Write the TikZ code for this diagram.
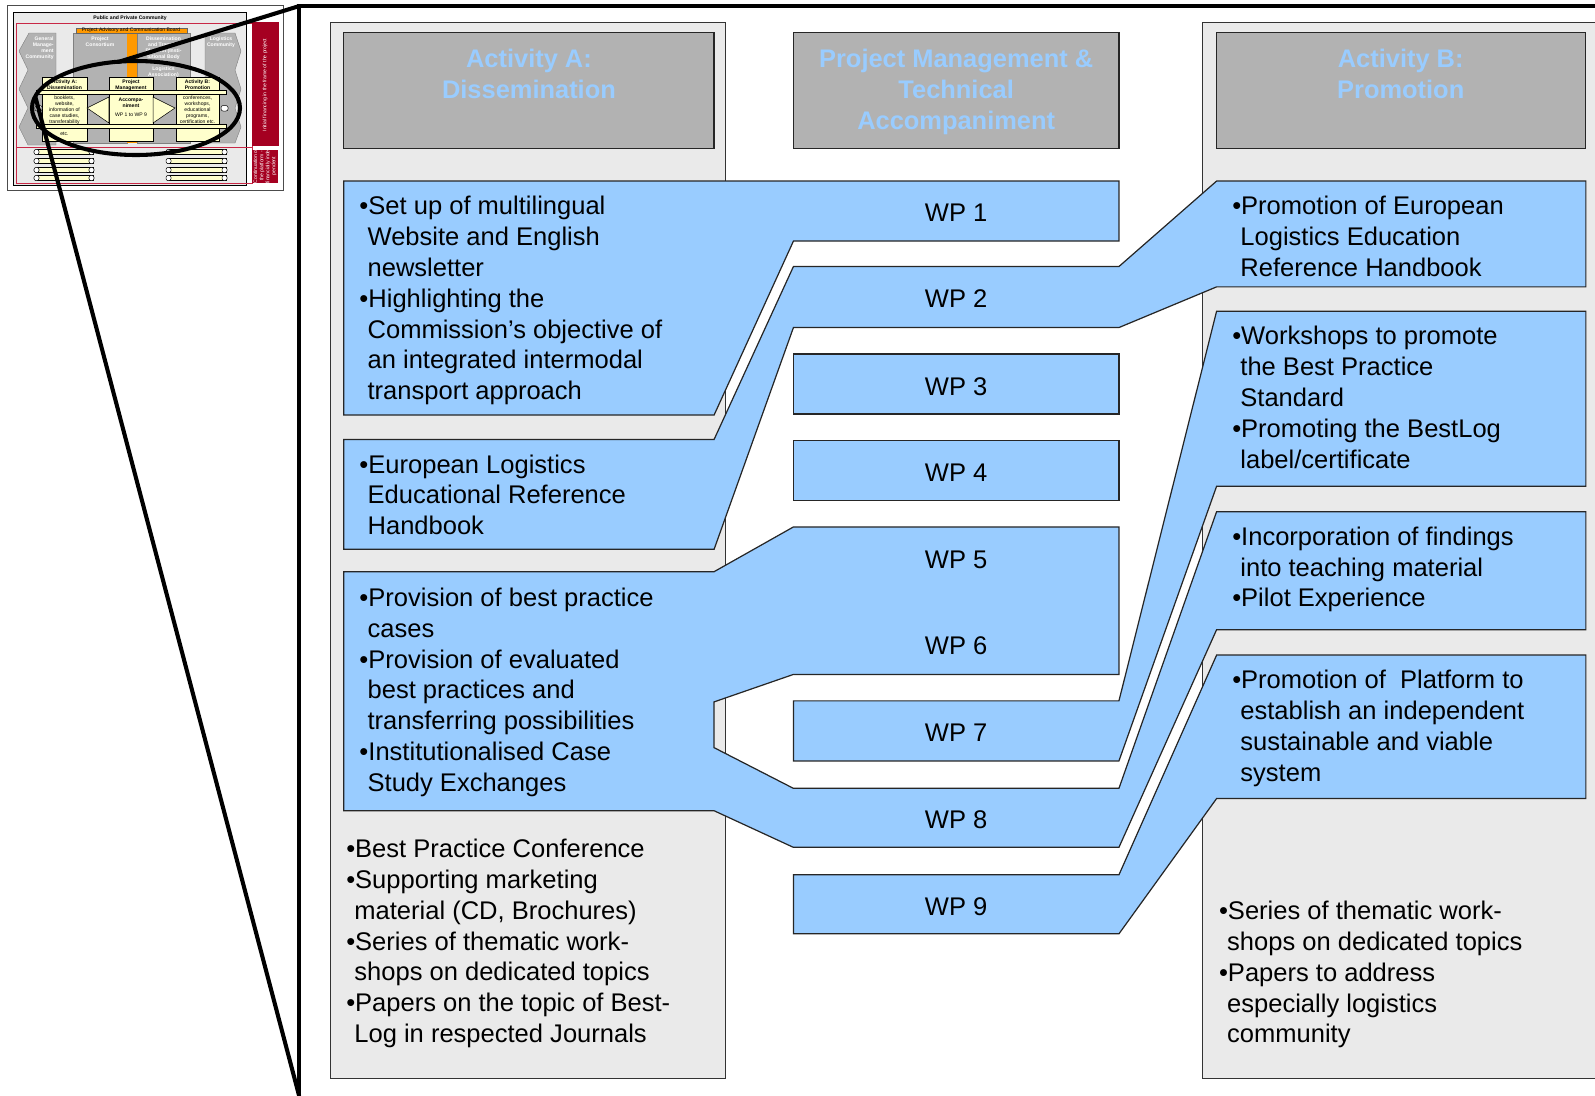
\documentclass[tikz,border=0pt]{standalone}
\usepackage{fontspec}
\setmainfont{Liberation Sans}
\usepackage{xcolor}
\definecolor{cBlue}{RGB}{153,204,255}
\definecolor{cColumn}{RGB}{234,234,234}
\definecolor{cHead}{RGB}{178,178,178}
\definecolor{cYellow}{RGB}{255,255,204}
\definecolor{cOrange}{RGB}{255,153,0}
\definecolor{cCrimson}{RGB}{165,0,33}
\definecolor{cRedLine}{RGB}{200,40,70}
\newcommand{\bodyfont}{\fontsize{12.55}{15.15}\selectfont}
\newcommand{\headfont}{\fontsize{12.5}{15.25}\selectfont\bfseries}
\newcommand{\minifont}{\fontsize{2.5}{3}\selectfont}
\newcommand{\contline}{\hspace*{4pt}}
\tikzset{
  column/.style={draw=black!80,fill=cColumn,line width=0.6pt},
  headbox/.style={draw=black!85,fill=cHead,line width=0.6pt},
  headtext/.style={anchor=north,align=center,inner sep=0pt,text=cBlue,
                   font=\headfont,execute at begin node=\strut},
  wpshape/.style={draw=black!85,fill=cBlue,line width=0.6pt},
  bodytext/.style={anchor=north west,align=left,inner sep=0pt,
                   font=\bodyfont,execute at begin node=\strut},
  wplabel/.style={inner sep=0pt,font=\bodyfont},
  frameline/.style={line width=2pt,line cap=round},
  minigray/.style={fill=cHead,draw=black!50,line width=0.2pt},
  miniyellow/.style={fill=cYellow,draw=black,line width=0.25pt},
  minitext/.style={inner sep=0pt,align=center,font=\minifont},
  minibold/.style={minitext,font=\minifont\bfseries}
}
\begin{document}
\begin{tikzpicture}[x=0.5pt,y=-0.5pt]
  \useasboundingbox (0,0) rectangle (1568,1077);

  % small overview picture
  \begin{scope}[scale=0.9831]
    \draw[fill=white,draw=black!70,line width=0.4pt] (7,5) rectangle (283,190);
    \draw[fill=cColumn,draw=black,line width=0.35pt] (13,12) rectangle (246,185);
    \node[minibold] (mTitle) at (130,18) {Public and Private Community};
    \draw[cRedLine,line width=0.35pt] (16,23) rectangle (252,183);
    \draw[cRedLine,line width=0.35pt] (16,147) -- (252,147);
    \fill[cCrimson] (252,22) rectangle (279,146);
    \fill[cCrimson] (252,150) rectangle (278,183);
    \node[minitext,text=white,rotate=90] (mInit) at (265,85)
        {Initial financing in the frame of the project};
    \node[minitext,text=white,rotate=90] (mCont) at (265,166)
        {Continuation of\\the platform -\\financially inde-\\pendent};

    \draw[minigray] (56,33) -- (29,33) -- (19,51) -- (28,70) -- (19,89)
        -- (28,108) -- (19,127) -- (28,145) -- (56,145) -- cycle;
    \node[minibold,text=white,align=right,anchor=north east] (mGen) at (54,36)
        {General\\Manage-\\ment\\Community};
    \draw[minigray] (73,33) rectangle (127,143);
    \node[minibold,text=white,anchor=north] (mCons) at (100,36) {Project\\Consortium};
    \draw[minigray] (137,33) rectangle (190,143);
    \node[minibold,text=white,anchor=north] (mDiss) at (163.5,36)
        {Dissemination\\and Transfer\\Platform (Insti-\\tutional Body\\of the\\Logistics\\Association)};
    \draw[minigray] (205,33) -- (235,33) -- (241,51) -- (235,70) -- (241,89)
        -- (235,108) -- (241,127) -- (235,143) -- (205,143) -- cycle;
    \node[minibold,text=white,anchor=north] (mLog) at (221,36) {Logistics\\Community};

    \fill[cOrange] (127,28) rectangle (137,143);
    \draw[fill=cOrange,draw=black!60,line width=0.2pt] (76,28) rectangle (187,33);
    \node[minitext] (mBoard) at (131,30.5) {Project Advisory and Communication Board};

    \draw[miniyellow] (42,77) rectangle (87,141);
    \draw[miniyellow] (109,77) rectangle (153,141);
    \draw[miniyellow] (176,77) rectangle (219,141);
    \draw[miniyellow] (87,108) -- (109,97) -- (109,123) -- cycle;
    \draw[miniyellow] (153,97) -- (175,108) -- (153,123) -- cycle;
    \node[minibold,anchor=north] (mActA) at (64.5,79) {Activity A:\\Dissemination};
    \node[minitext,anchor=north] (mActAtxt) at (64.5,95)
        {booklets,\\website,\\information of\\case studies,\\transferability\\assessment\\etc.};
    \node[minibold,anchor=north] (mPM) at (131,79)
        {Project\\Management\\\& Technical\\Accompa-\\niment};
    \node[minitext] (mWP) at (131,115) {WP 1 to WP 9};
    \node[minibold,anchor=north] (mActB) at (197.5,79) {Activity B:\\Promotion};
    \node[minitext,anchor=north] (mActBtxt) at (197.5,95)
        {conferences,\\workshops,\\educational\\programs,\\certification etc.};

    \draw[miniyellow] (36,90) rectangle (226,94);
    \draw[miniyellow] (36,124) rectangle (226,128);
    \draw[fill=white,line width=0.25pt,rounded corners=1pt] (35,105.5) rectangle (42,111);
    \draw[fill=white,line width=0.25pt,rounded corners=1pt] (221,105.5) rectangle (228,111);
    \foreach \y in {152,161,170,178} {
      \draw[miniyellow] (36,\y-2.3) rectangle (93,\y+2.3);
      \draw[miniyellow] (168,\y-2.3) rectangle (226,\y+2.3);
      \draw[fill=white,line width=0.25pt,rounded corners=1pt] (34,\y-2.6) rectangle (39,\y+2.6);
      \draw[fill=white,line width=0.25pt,rounded corners=1pt] (89,\y-2.6) rectangle (94,\y+2.6);
      \draw[fill=white,line width=0.25pt,rounded corners=1pt] (166,\y-2.6) rectangle (171,\y+2.6);
      \draw[fill=white,line width=0.25pt,rounded corners=1pt] (222,\y-2.6) rectangle (227,\y+2.6);
    }
    \draw[frameline] (136,108) ellipse [x radius=104,y radius=47];
  \end{scope}

  % zoom frame
  \coordinate (fTop) at (294,6);
  \coordinate (fBot) at (294,1077);
  \coordinate (fRight) at (1570,6);
  \coordinate (eTop) at (116,61);
  \coordinate (eLeft) at (35,96);
  \draw[frameline] (fRight) -- (fTop) -- (fBot);
  \draw[frameline] (eTop) -- (fTop);
  \draw[frameline] (eLeft) -- (fBot);

  % columns and headers
  \draw[column] (325,22) rectangle (713,1060);
  \draw[column] (1182,22) rectangle (1590,1060);
  \draw[headbox] (338,32) rectangle (702,146);
  \draw[headbox] (780,32) rectangle (1100,146);
  \draw[headbox] (1196,32) rectangle (1559,146);
  \node[headtext] (headA) at (520,48) {Activity A:\\Dissemination};
  \node[headtext] (headM) at (940,48) {Project Management \&\\Technical\\Accompaniment};
  \node[headtext] (headB) at (1377,48) {Activity B:\\Promotion};

  % work packages
  \draw[wpshape] (338,178) -- (1100,178) -- (1100,237) -- (780,237) -- (702,408)
      -- (338,408) -- cycle;
  \draw[wpshape] (338,432) -- (702,432) -- (780,262) -- (1100,262) -- (1196,178)
      -- (1559,178) -- (1559,282) -- (1196,282) -- (1100,322) -- (780,322)
      -- (702,540) -- (338,540) -- cycle;
  \draw[wpshape] (780,348) rectangle (1100,407);
  \draw[wpshape] (780,433) rectangle (1100,492);
  \draw[wpshape] (338,562) -- (702,562) -- (780,518) -- (1100,518) -- (1100,663)
      -- (780,663) -- (702,690) -- (702,735) -- (780,775) -- (1100,775)
      -- (1196,503) -- (1559,503) -- (1559,619) -- (1196,619) -- (1100,833)
      -- (780,833) -- (702,797) -- (338,797) -- cycle;
  \draw[wpshape] (780,689) -- (1100,689) -- (1196,306) -- (1559,306) -- (1559,478)
      -- (1196,478) -- (1100,748) -- (780,748) -- cycle;
  \draw[wpshape] (780,860) -- (1100,860) -- (1196,644) -- (1559,644) -- (1559,785)
      -- (1196,785) -- (1100,918) -- (780,918) -- cycle;
  \foreach \n/\y in {1/209,2/294,3/380,4/465,5/550,6/635,7/720,8/806,9/891}
    \node[wplabel] (wp\n) at (940,\y) {WP \n};

  % activity A
  \node[bodytext] (txtA1) at (353,192.5)
      {•Set up of multilingual\\\contline Website and English\\\contline newsletter\\
       •Highlighting the\\\contline Commission’s objective of\\\contline an integrated intermodal\\
       \contline transport approach};
  \node[bodytext] (txtA2) at (353,446.5)
      {•European Logistics\\\contline Educational Reference\\\contline Handbook};
  \node[bodytext] (txtA3) at (353,577.5)
      {•Provision of best practice\\\contline cases\\•Provision of evaluated\\
       \contline best practices and\\\contline transferring possibilities\\
       •Institutionalised Case\\\contline Study Exchanges};
  \node[bodytext] (txtA4) at (340,824.5)
      {•Best Practice Conference\\•Supporting marketing\\\contline material (CD, Brochures)\\
       •Series of thematic work-\\\contline shops on dedicated topics\\
       •Papers on the topic of Best-\\\contline Log in respected Journals};

  % activity B
  \node[bodytext] (txtB1) at (1211,192.5)
      {•Promotion of European\\\contline Logistics Education\\\contline Reference Handbook};
  \node[bodytext] (txtB2) at (1211,320.5)
      {•Workshops to promote\\\contline the Best Practice\\\contline Standard\\
       •Promoting the BestLog\\\contline label/certificate};
  \node[bodytext] (txtB3) at (1211,517.5)
      {•Incorporation of findings\\\contline into teaching material\\•Pilot Experience};
  \node[bodytext] (txtB4) at (1211,658.5)
      {•Promotion of\ \ Platform to\\\contline establish an independent\\
       \contline sustainable and viable\\\contline system};
  \node[bodytext] (txtB5) at (1198,885.5)
      {•Series of thematic work-\\\contline shops on dedicated topics\\
       •Papers to address\\\contline especially logistics\\\contline community};
\end{tikzpicture}
\end{document}
